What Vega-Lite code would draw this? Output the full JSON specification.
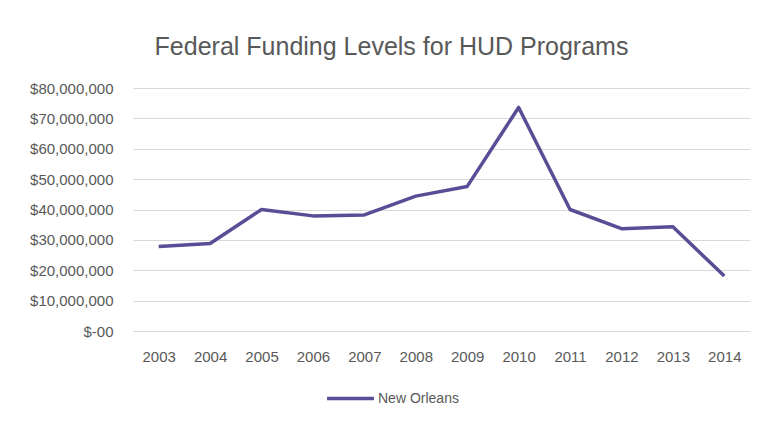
{
  "$schema": "https://vega.github.io/schema/vega-lite/v6.json",
  "width": 617,
  "height": 243,
  "autosize": {"type": "none"},
  "padding": {"left": 133, "top": 88, "right": 20, "bottom": 99},
  "background": "white",
  "title": {
    "text": "Federal Funding Levels for HUD Programs",
    "fontSize": 25,
    "font": "Liberation Sans",
    "fontWeight": "normal",
    "color": "#595959",
    "anchor": "middle",
    "dx": -50,
    "offset": 21
  },
  "data": {
    "values": [
      {"year": "2003", "city": "New Orleans", "funding": 27800000},
      {"year": "2004", "city": "New Orleans", "funding": 28800000},
      {"year": "2005", "city": "New Orleans", "funding": 40000000},
      {"year": "2006", "city": "New Orleans", "funding": 37900000},
      {"year": "2007", "city": "New Orleans", "funding": 38200000},
      {"year": "2008", "city": "New Orleans", "funding": 44400000},
      {"year": "2009", "city": "New Orleans", "funding": 47600000},
      {"year": "2010", "city": "New Orleans", "funding": 73600000},
      {"year": "2011", "city": "New Orleans", "funding": 40000000},
      {"year": "2012", "city": "New Orleans", "funding": 33700000},
      {"year": "2013", "city": "New Orleans", "funding": 34300000},
      {"year": "2014", "city": "New Orleans", "funding": 18100000}
    ]
  },
  "mark": {"type": "line", "strokeWidth": 3.5, "strokeJoin": "round"},
  "encoding": {
    "x": {
      "field": "year",
      "type": "ordinal",
      "scale": {"padding": 0.5},
      "axis": {
        "title": null,
        "labelAngle": 0,
        "domain": false,
        "ticks": false,
        "grid": false,
        "labelPadding": 18,
        "labelFontSize": 15,
        "labelFont": "Liberation Sans",
        "labelColor": "#595959"
      }
    },
    "y": {
      "field": "funding",
      "type": "quantitative",
      "scale": {"domain": [0, 80000000]},
      "axis": {
        "title": null,
        "values": [0, 10000000, 20000000, 30000000, 40000000, 50000000, 60000000, 70000000, 80000000],
        "labelExpr": "datum.value == 0 ? '$-00' : format(datum.value, '$,.0f')",
        "domain": false,
        "ticks": false,
        "labelPadding": 20,
        "labelFontSize": 15,
        "labelFont": "Liberation Sans",
        "labelColor": "#595959",
        "gridColor": "#d9d9d9",
        "gridWidth": 1.2
      }
    },
    "color": {
      "field": "city",
      "type": "nominal",
      "scale": {"range": ["#584e96"]},
      "legend": {
        "title": null,
        "orient": "none",
        "legendX": 192,
        "legendY": 285,
        "symbolType": "stroke",
        "symbolStrokeWidth": 3.5,
        "symbolSize": 2200,
        "labelFontSize": 14,
        "labelFont": "Liberation Sans",
        "labelColor": "#595959",
        "labelOffset": 2
      }
    }
  },
  "config": {"view": {"stroke": null}}
}
